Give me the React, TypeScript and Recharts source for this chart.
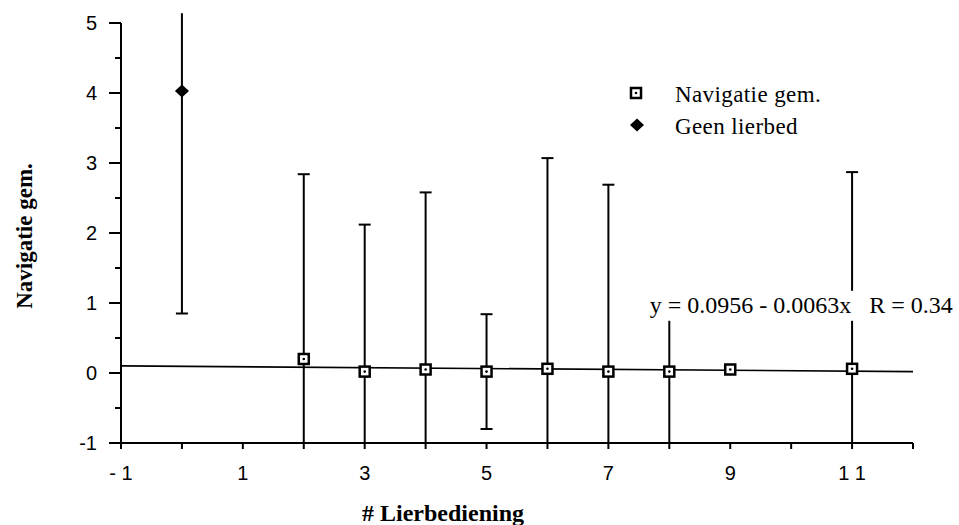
import React from 'react';
import { ScatterChart, Scatter, XAxis, YAxis, ErrorBar, Legend, ReferenceDot } from 'recharts';

// ---- data ----
const navX = [2, 3, 4, 5, 6, 7, 8, 9, 11];
const navMean = [0.2, 0.02, 0.05, 0.02, 0.06, 0.02, 0.02, 0.05, 0.06];
const navHigh: (number | null)[] = [2.84, 2.12, 2.58, 0.84, 3.07, 2.69, 1.0, null, 2.87];
const navLow: (number | null)[] = [-1, -1, -1, -0.8, -1, -1, -1, null, -1];

const geenX = [0];
const geenMean = [4.03];
const geenHigh = [5.14];
const geenLow = [0.85];

const regIntercept = 0.0956;
const regSlope = -0.0063;
const regRange = [-1, 12];
const equationText = 'y = 0.0956 - 0.0063x   R = 0.34';

const xTicks = [-1, 0, 1, 2, 3, 4, 5, 6, 7, 8, 9, 10, 11, 12];
const xTickLabels: Record<number, string> = { [-1]: '- 1', 1: '1', 3: '3', 5: '5', 7: '7', 9: '9', 11: '1 1' };
const yTicks = [-1, -0.5, 0, 0.5, 1, 1.5, 2, 2.5, 3, 3.5, 4, 4.5, 5];
const yTickLabels: Record<number, string> = { [-1]: '-1', 0: '0', 1: '1', 2: '2', 3: '3', 4: '4', 5: '5' };

const navData = navX.map((x, i) => ({
  x,
  y: navMean[i],
  err: navHigh[i] == null ? undefined : [navMean[i] - (navLow[i] as number), (navHigh[i] as number) - navMean[i]],
}));
const geenData = geenX.map((x, i) => ({
  x,
  y: geenMean[i],
  errLow: [geenMean[i] - geenLow[i], 0],
  errHigh: [0, geenHigh[i] - geenMean[i]],
}));
const regData = regRange.map((x) => ({ x, y: regIntercept + regSlope * x }));

const SERIF = "'Liberation Serif', 'Times New Roman', serif";
const SANS = "'Liberation Sans', Arial, sans-serif";

const SquareMark = ({ cx, cy }: any) => (
  <g>
    <rect x={cx - 5} y={cy - 5} width={10} height={10} fill="#fff" stroke="#000" strokeWidth={2.5} />
    <circle cx={cx} cy={cy} r={1.3} fill="#000" />
  </g>
);
const DiamondMark = ({ cx, cy }: any) => (
  <polygon points={`${cx - 7},${cy} ${cx},${cy - 6.5} ${cx + 7},${cy} ${cx},${cy + 6.5}`} fill="#000" />
);

const YTick = ({ x, y, payload }: any) => {
  const v = payload.value;
  const major = Math.abs(v - Math.round(v)) < 1e-6;
  const label = yTickLabels[Math.round(v)];
  return (
    <g>
      <line x1={x - (major ? 12 : 6)} x2={x} y1={y} y2={y} stroke="#000" strokeWidth={2} />
      {major && label != null && (
        <text x={x - 24} y={y} dy="0.36em" textAnchor="end" fontFamily={SANS} fontSize={20} fill="#000">
          {label}
        </text>
      )}
    </g>
  );
};

const XTick = ({ x, y, payload }: any) => {
  const label = xTickLabels[payload.value];
  return (
    <g>
      <line x1={x} x2={x} y1={y} y2={y + 6} stroke="#000" strokeWidth={2} />
      {label != null && (
        <text x={x} y={y + 37} textAnchor="middle" fontFamily={SANS} fontSize={20} fill="#000" style={{ whiteSpace: 'pre' }}>
          {label}
        </text>
      )}
    </g>
  );
};

const LegendContent = () => (
  <svg width={240} height={70} style={{ overflow: 'visible' }}>
    <SquareMark cx={16} cy={18} />
    <text x={55} y={27} fontFamily={SERIF} fontSize={23} letterSpacing={0.4} fill="#000">
      Navigatie gem.
    </text>
    <DiamondMark cx={17} cy={50} />
    <text x={55} y={59} fontFamily={SERIF} fontSize={23} letterSpacing={0.4} fill="#000">
      Geen lierbed
    </text>
  </svg>
);

const EquationLabel = ({ viewBox }: any) => {
  const x = viewBox.x;
  const y = viewBox.y;
  return (
    <g>
      <rect x={x - 5} y={y - 22} width={312} height={30} fill="#fff" />
      <text x={x} y={y} fontFamily={SERIF} fontSize={24} fill="#000" style={{ whiteSpace: 'pre' }}>
        {equationText}
      </text>
    </g>
  );
};

export default function App() {
  return (
    <div style={{ position: 'absolute', left: 0, top: 0, width: 959, height: 525, background: '#fff' }}>
      <ScatterChart width={959} height={525} margin={{ top: 23, right: 46, bottom: 0, left: 0 }}>
        <XAxis
          type="number"
          dataKey="x"
          domain={[-1, 12]}
          ticks={xTicks}
          interval={0}
          allowDataOverflow
          height={82}
          tickSize={0}
          tickMargin={0}
          tickLine={false}
          axisLine={{ stroke: '#000', strokeWidth: 2 }}
          tick={<XTick />}
          label={{
            content: ({ viewBox }: any) => (
              <text x={443} y={viewBox.y + 78} textAnchor="middle" fontFamily={SERIF} fontWeight="bold" fontSize={24} fill="#000">
                # Lierbediening
              </text>
            ),
          }}
        />
        <YAxis
          type="number"
          dataKey="y"
          domain={[-1, 5]}
          ticks={yTicks}
          interval={0}
          allowDataOverflow
          width={121}
          tickSize={0}
          tickMargin={0}
          tickLine={false}
          axisLine={{ stroke: '#000', strokeWidth: 2 }}
          tick={<YTick />}
          label={{
            content: ({ viewBox }: any) => {
              const cx = viewBox.x + 32;
              const cy = viewBox.y + viewBox.height / 2 + 3;
              return (
                <text
                  x={cx}
                  y={cy}
                  transform={`rotate(-90, ${cx}, ${cy})`}
                  textAnchor="middle"
                  fontFamily={SERIF}
                  fontWeight="bold"
                  fontSize={23}
                  fill="#000"
                >
                  Navigatie gem.
                </text>
              );
            },
          }}
        />
        <Legend
          layout="horizontal"
          align="center"
          verticalAlign="middle"
          wrapperStyle={{ left: 620, top: 75, width: 240, height: 70 }}
          content={() => <LegendContent />}
        />
        <Scatter
          name="Regressie"
          data={regData}
          line={{ stroke: '#000', strokeWidth: 1.6 }}
          shape={() => <g />}
          isAnimationActive={false}
          legendType="none"
        />
        <Scatter name="Navigatie gem." data={navData} shape={<SquareMark />} isAnimationActive={false}>
          <ErrorBar dataKey="err" direction="y" width={6} stroke="#000" strokeWidth={2} isAnimationActive={false} />
        </Scatter>
        <Scatter name="Geen lierbed" data={geenData} shape={<DiamondMark />} isAnimationActive={false}>
          <ErrorBar dataKey="errLow" direction="y" width={6} stroke="#000" strokeWidth={2} isAnimationActive={false} />
          <ErrorBar dataKey="errHigh" direction="y" width={0} stroke="#000" strokeWidth={2} isAnimationActive={false} />
        </Scatter>
        <ReferenceDot x={7.68} y={0.86} r={0} fill="none" stroke="none" label={{ content: (p: any) => <EquationLabel {...p} /> }} />
      </ScatterChart>
    </div>
  );
}
